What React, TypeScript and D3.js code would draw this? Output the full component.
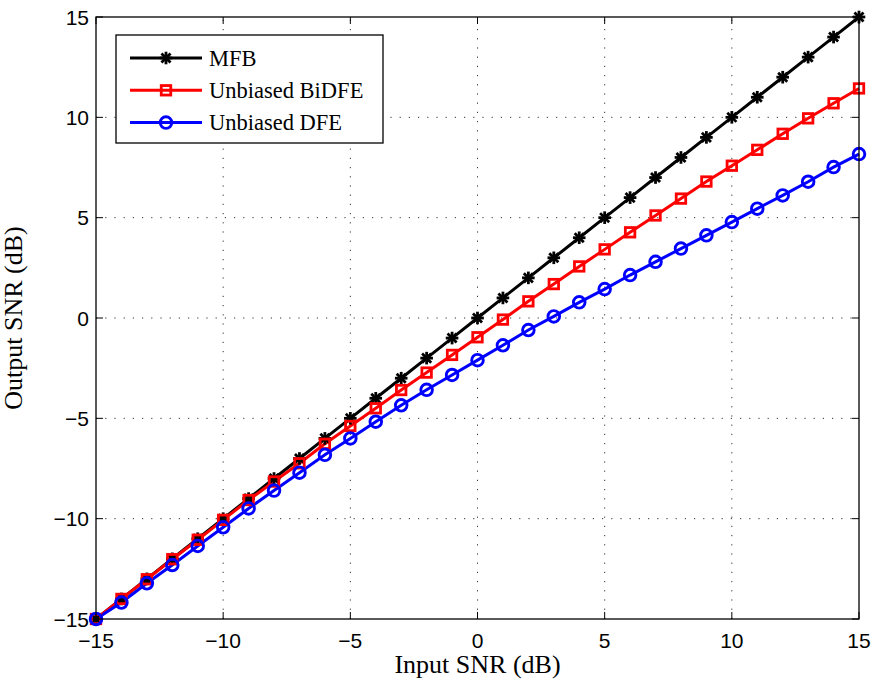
import React from "react";
import * as d3 from "d3";

// Input SNR (dB)
const inputSnr = [-15, -14, -13, -12, -11, -10, -9, -8, -7, -6, -5, -4, -3, -2, -1, 0, 1, 2, 3, 4, 5, 6, 7, 8, 9, 10, 11, 12, 13, 14, 15];
// Output SNR (dB) per receiver
const mfb = [-15, -14, -13, -12, -11, -10, -9, -8, -7, -6, -5, -4, -3, -2, -1, 0, 1, 2, 3, 4, 5, 6, 7, 8, 9, 10, 11, 12, 13, 14, 15];
const unbiasedBiDfe = [-15, -14.0, -13.02, -12.02, -11.05, -10.06, -9.07, -8.15, -7.24, -6.27, -5.38, -4.5, -3.59, -2.72, -1.84, -0.96, -0.08, 0.83, 1.69, 2.57, 3.42, 4.27, 5.11, 5.95, 6.8, 7.59, 8.38, 9.18, 9.95, 10.7, 11.44];
const unbiasedDfe = [-15, -14.18, -13.22, -12.31, -11.36, -10.43, -9.49, -8.6, -7.71, -6.82, -6.0, -5.17, -4.35, -3.58, -2.84, -2.1, -1.36, -0.6, 0.08, 0.78, 1.44, 2.14, 2.8, 3.46, 4.12, 4.78, 5.45, 6.11, 6.79, 7.52, 8.17];

const xTicks = [-15, -10, -5, 0, 5, 10, 15];
const yTicks = [-15, -10, -5, 0, 5, 10, 15];
const seriesNames = ["MFB", "Unbiased BiDFE", "Unbiased DFE"];

const W = 875;
const H = 689;
const left = 96;
const right = 859;
const top = 17;
const bottom = 619;

const x = d3.scaleLinear().domain([-15, 15]).range([left, right]);
const y = d3.scaleLinear().domain([-15, 15]).range([bottom, top]);

const fmt = (v: number) => (v < 0 ? "\u2212" + Math.abs(v) : String(v));

type MarkerKind = "star" | "square" | "circle";

function Marker({ kind, cx, cy, color }: { kind: MarkerKind; cx: number; cy: number; color: string }) {
  if (kind === "star") {
    const r = 6.3;
    const d = r * 0.72;
    return (
      <g stroke={color} strokeWidth={2.8} strokeLinecap="butt">
        <line x1={cx - r} y1={cy} x2={cx + r} y2={cy} />
        <line x1={cx} y1={cy - r} x2={cx} y2={cy + r} />
        <line x1={cx - d} y1={cy - d} x2={cx + d} y2={cy + d} />
        <line x1={cx - d} y1={cy + d} x2={cx + d} y2={cy - d} />
      </g>
    );
  }
  if (kind === "square") {
    const s = 9.5;
    return <rect x={cx - s / 2} y={cy - s / 2} width={s} height={s} fill="none" stroke={color} strokeWidth={2.8} />;
  }
  return <circle cx={cx} cy={cy} r={5.8} fill="none" stroke={color} strokeWidth={2.9} />;
}

const series: { name: string; values: number[]; color: string; kind: MarkerKind }[] = [
  { name: seriesNames[0], values: mfb, color: "#000000", kind: "star" },
  { name: seriesNames[1], values: unbiasedBiDfe, color: "#ff0000", kind: "square" },
  { name: seriesNames[2], values: unbiasedDfe, color: "#0000ff", kind: "circle" },
];

export default function App() {
  const line = d3
    .line<number>()
    .x((_, i) => x(inputSnr[i]))
    .y((v) => y(v));

  const tickLen = 7;
  const legendX = 116;
  const legendY = 35;
  const legendW = 267;
  const legendH = 108;

  return (
    <svg
      width={W}
      height={H}
      viewBox={`0 0 ${W} ${H}`}
      style={{ position: "absolute", left: 0, top: 0, background: "#fff" }}
    >
      <rect x={0} y={0} width={W} height={H} fill="#fff" />

      {/* dotted grid */}
      <g stroke="#333" strokeWidth={1} strokeDasharray="1.2,8">
        {xTicks.slice(1, -1).map((t) => (
          <line key={"gx" + t} x1={x(t)} x2={x(t)} y1={bottom} y2={top} />
        ))}
        {yTicks.slice(1, -1).map((t) => (
          <line key={"gy" + t} x1={left} x2={right} y1={y(t)} y2={y(t)} />
        ))}
      </g>

      {/* ticks on all four sides */}
      <g stroke="#000" strokeWidth={1}>
        {xTicks.map((t) => (
          <g key={"tx" + t}>
            <line x1={x(t)} x2={x(t)} y1={bottom} y2={bottom - tickLen} />
            <line x1={x(t)} x2={x(t)} y1={top} y2={top + tickLen} />
          </g>
        ))}
        {yTicks.map((t) => (
          <g key={"ty" + t}>
            <line x1={left} x2={left + tickLen} y1={y(t)} y2={y(t)} />
            <line x1={right} x2={right - tickLen} y1={y(t)} y2={y(t)} />
          </g>
        ))}
      </g>

      {/* series lines */}
      {series.map((s) => (
        <path key={"l" + s.name} d={line(s.values) || ""} fill="none" stroke={s.color} strokeWidth={3} />
      ))}
      {/* series markers */}
      {series.map((s) => (
        <g key={"m" + s.name}>
          {s.values.map((v, i) => (
            <Marker key={i} kind={s.kind} cx={x(inputSnr[i])} cy={y(v)} color={s.color} />
          ))}
        </g>
      ))}

      {/* axes box */}
      <rect x={left} y={top} width={right - left} height={bottom - top} fill="none" stroke="#000" strokeWidth={1.3} />

      {/* tick labels */}
      <g fontFamily="'Liberation Sans', Arial, sans-serif" fontSize={21} fill="#000">
        {xTicks.map((t) => (
          <text key={"lx" + t} x={x(t)} y={648} textAnchor="middle">
            {fmt(t)}
          </text>
        ))}
        {yTicks.map((t) => (
          <text key={"ly" + t} x={89} y={y(t) + 7.5} textAnchor="end">
            {fmt(t)}
          </text>
        ))}
      </g>

      {/* axis titles */}
      <g fontFamily="'Liberation Serif', 'Times New Roman', serif" fontSize={26} fill="#000">
        <text x={(left + right) / 2} y={673} textAnchor="middle">
          Input SNR (dB)
        </text>
        <text transform={`translate(22, ${(top + bottom) / 2}) rotate(-90)`} textAnchor="middle">
          Output SNR (dB)
        </text>
      </g>

      {/* legend */}
      <g>
        <rect x={legendX} y={legendY} width={legendW} height={legendH} fill="#fff" stroke="#000" strokeWidth={1.3} />
        {series.map((s, i) => {
          const cy = 58 + i * 32.3;
          return (
            <g key={"lg" + s.name}>
              <line x1={130} x2={202} y1={cy} y2={cy} stroke={s.color} strokeWidth={3} />
              <Marker kind={s.kind} cx={166} cy={cy} color={s.color} />
              <text
                x={209}
                y={cy + 7.5}
                fontFamily="'Liberation Serif', 'Times New Roman', serif"
                fontSize={22.5}
                fill="#000"
              >
                {s.name}
              </text>
            </g>
          );
        })}
      </g>
    </svg>
  );
}
